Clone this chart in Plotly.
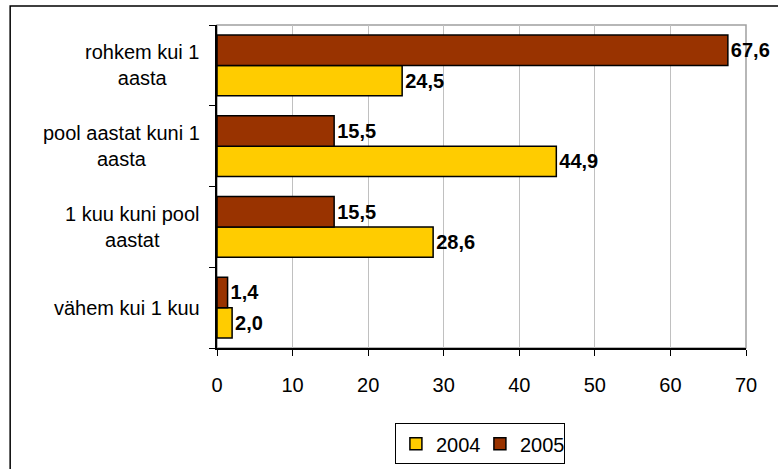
import plotly.graph_objects as go

categories = ["vähem kui 1 kuu", "1 kuu kuni pool aastat", "pool aastat kuni 1 aasta", "rohkem kui 1 aasta"]
category_labels = ["vähem kui 1 kuu", "1 kuu kuni pool<br>aastat", "pool aastat kuni 1<br>aasta", "rohkem kui 1<br>aasta"]
values_2004 = [2.0, 28.6, 44.9, 24.5]
values_2005 = [1.4, 15.5, 15.5, 67.6]
series_names = ["2004", "2005"]
colors = ["#FFCC00", "#993300"]
x_ticks = [0, 10, 20, 30, 40, 50, 60, 70]

FONT = "Arial, Liberation Sans, sans-serif"

fig = go.Figure()
for name, vals, col in zip(series_names, [values_2004, values_2005], colors):
    fig.add_trace(go.Bar(
        name=name, y=categories, x=vals, orientation="h",
        marker=dict(color=col, line=dict(color="black", width=1.5)),
        texttemplate="<b>%{x:.1f}</b>", textposition="outside",
        textfont=dict(family=FONT, size=20, color="black"),
        cliponaxis=False, constraintext="none",
    ))

for cat, lab in zip(categories, category_labels):
    fig.add_annotation(x=0, xref="paper", y=cat, yref="y", text=lab,
                       xanchor="right", yanchor="middle", align="center",
                       xshift=-15, showarrow=False,
                       font=dict(family=FONT, size=20, color="black"))

# plot-area border (top/right gray)
fig.add_shape(type="rect", xref="paper", yref="paper", x0=0, x1=1, y0=0, y1=1,
              line=dict(color="#A0A0A0", width=1.5), layer="below")
# outer chart border
fig.add_shape(type="rect", xref="paper", yref="paper", x0=-0.391, x1=1.3, y0=-0.8, y1=1.059,
              line=dict(color="black", width=1.5), layer="below")

fig.update_layout(
    width=778, height=469,
    margin=dict(l=217, r=32, t=25, b=121, autoexpand=False),
    paper_bgcolor="white", plot_bgcolor="white",
    barmode="group", bargap=0.25, bargroupgap=0,
    separators=", ",
    font=dict(family=FONT, size=20, color="black"),
    legend=dict(orientation="h", x=0.497, xanchor="center", y=-0.233, yanchor="top",
                bordercolor="black", borderwidth=1, font=dict(size=20),
                itemwidth=30, traceorder="normal", entrywidth=39, entrywidthmode="pixels"),
    xaxis=dict(range=[0, 70], tickvals=x_ticks, showgrid=True, gridcolor="#C0C0C0", gridwidth=1,
               showline=True, linecolor="black", linewidth=1.5, ticks="outside", ticklen=6,
               tickcolor="black", zeroline=False, ticklabelstandoff=12,
               tickfont=dict(size=20)),
    yaxis=dict(showticklabels=False, showline=True, linecolor="black", linewidth=1.5,
               ticks="outside", ticklen=6, tickcolor="black", tickson="boundaries",
               showgrid=False, categoryorder="array", categoryarray=categories),
)

fig.write_html("out.html", config={"displayModeBar": False},
               post_script="document.body.style.margin='0';document.body.style.overflow='hidden';")
